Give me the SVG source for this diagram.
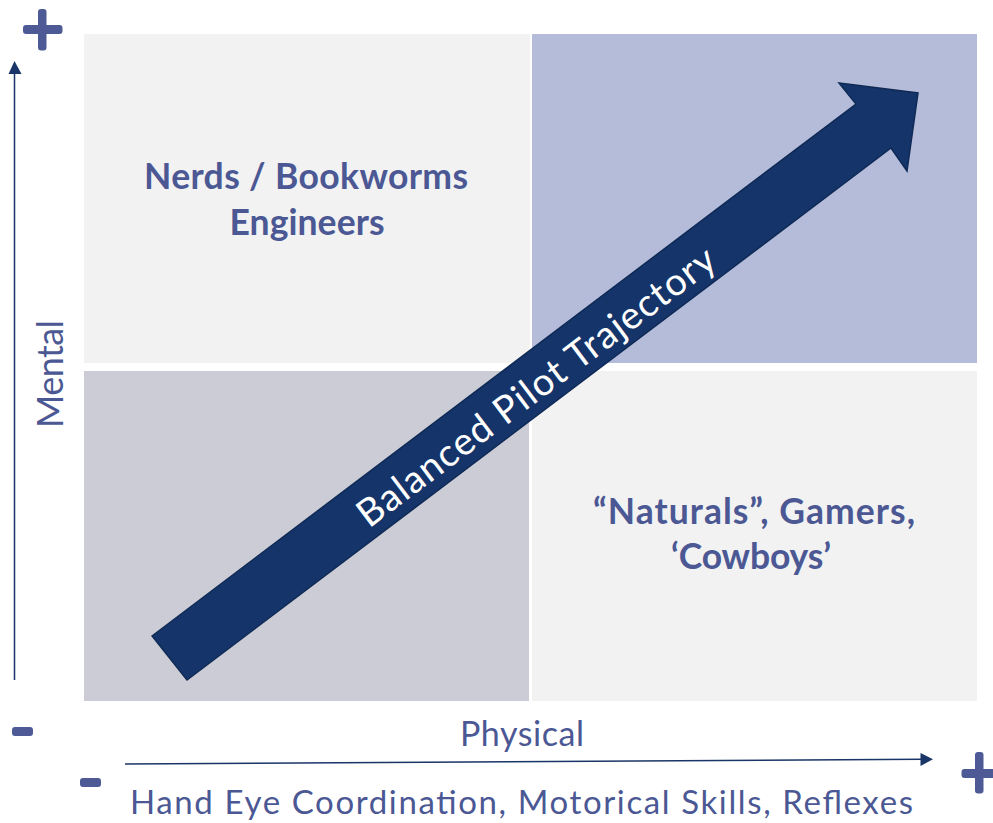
<svg xmlns="http://www.w3.org/2000/svg" width="993" height="823" viewBox="0 0 993 823">
  <defs>
    <style>
      .lbl { font-family: Lato, "Liberation Sans", sans-serif; fill: #4B5894; }
      .bold { font-weight: bold; font-size: 35.5px; }
      .axis { font-size: 34px; }
      .sign { fill: #4E5A96; }
      .axisline { stroke: #1A3568; stroke-width: 1.5; fill: none; }
      .head { fill: #1A3568; }
    </style>
  </defs>

  <rect width="993" height="823" fill="#FFFFFF"/>

  <!-- quadrants -->
  <g id="quad-tl"><rect x="84" y="34" width="446" height="329" fill="#F2F2F2"/></g>
  <g id="quad-tr"><rect x="532" y="34" width="445" height="329" fill="#B4BCDA"/></g>
  <g id="quad-bl"><rect x="84" y="371" width="445" height="330" fill="#CBCCD5"/></g>
  <g id="quad-br"><rect x="532" y="371" width="445" height="330" fill="#F2F2F2"/></g>

  <!-- quadrant labels -->
  <g id="label-nerds">
    <text class="lbl bold" x="306" y="189" text-anchor="middle" textLength="324">Nerds / Bookworms</text>
    <text class="lbl bold" x="307" y="235" text-anchor="middle" textLength="155">Engineers</text>
  </g>
  <g id="label-naturals">
    <text class="lbl bold" x="754" y="524" text-anchor="middle" textLength="322">“Naturals”, Gamers,</text>
    <text class="lbl bold" x="751" y="569" text-anchor="middle" textLength="160">‘Cowboys’</text>
  </g>

  <!-- axes -->
  <g id="connectors">
    <line class="axisline" x1="14.5" y1="680" x2="14.5" y2="72"/>
    <polygon class="head" points="14.5,61 8.5,74 21.5,74"/>
    <line class="axisline" x1="125" y1="764" x2="922" y2="759.3"/>
    <polygon class="head" points="933,759.3 920.5,753 920.5,766"/>
  </g>

  <!-- axis signs -->
  <g id="signs">
    <rect class="sign" x="23" y="25" width="39.5" height="9" rx="3"/>
    <rect class="sign" x="38" y="9" width="8.5" height="41.5" rx="3"/>
    <rect class="sign" x="961.5" y="769" width="35" height="9" rx="3"/>
    <rect class="sign" x="975" y="752" width="8.5" height="41.5" rx="3"/>
    <rect class="sign" x="12" y="727" width="21" height="9" rx="3"/>
    <rect class="sign" x="80" y="778" width="21" height="9" rx="3"/>
  </g>

  <!-- axis titles -->
  <g id="axis-mental">
    <text class="lbl" font-size="36" x="-374" y="63" transform="rotate(-90)" text-anchor="middle" textLength="108">Mental</text>
  </g>
  <g id="axis-physical">
    <text class="lbl axis" x="522" y="746" text-anchor="middle" textLength="124">Physical</text>
    <text class="lbl" font-size="33" x="521.5" y="814" text-anchor="middle" textLength="783">Hand Eye Coordination, Motorical Skills, Reflexes</text>
  </g>

  <!-- trajectory arrow -->
  <g id="trajectory">
    <polygon points="152,636 856,104 839,83 918,93 907,171 891,148 187,680" fill="#15346A" stroke="#0F2A55" stroke-width="1.5" stroke-linejoin="miter"/>
    <text x="0" y="0" transform="translate(544,397) rotate(-37)" text-anchor="middle" font-family="Lato, 'Liberation Sans', sans-serif" font-size="38" fill="#FFFFFF" textLength="438">Balanced Pilot Trajectory</text>
  </g>
</svg>
